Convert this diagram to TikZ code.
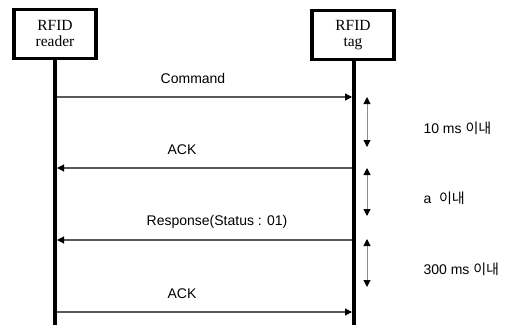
\documentclass[tikz,border=0pt]{standalone}
\usepackage{fontspec}
\setmainfont{Liberation Serif}
\setsansfont{Liberation Sans}
\newfontfamily\kr{Noto Sans CJK KR}
\usetikzlibrary{arrows.meta}

\begin{document}
\begin{tikzpicture}[x=1pt,y=-1pt,
  actor/.style={draw,line width=3.8pt,minimum width=82pt,minimum height=49pt,inner sep=0pt,align=center,font=\fontsize{15.5}{16}\selectfont},
  life/.style={line width=3.8pt},
  msg/.style={draw=black!65,line width=1.1pt,-{Triangle[length=7pt,width=7pt,black]}},
  gap/.style={draw=black!45,line width=1pt,{Triangle[length=7pt,width=7pt,black]}-{Triangle[length=7pt,width=7pt,black]}},
  lbl/.style={font=\sffamily\fontsize{14}{16}\selectfont}]
\useasboundingbox (0,0) rectangle (506,324);

\node[actor] (reader) at (55,34) {RFID\\reader};
\node[actor] (tag) at (353,35) {RFID\\tag};
\coordinate (rend) at (55,326);
\coordinate (tend) at (354,326);
\draw[life] (reader.south) -- (rend);
\draw[life] (tag.south -| tend) -- (tend);

% messages between reader and tag
\foreach \n/\y/\l/\lx in{
1/97/{Command}/193,
2/168/{ACK}/182,
3/240/{Response(Status : 01)}/217,
4/312/{ACK}/182
}
{
        \coordinate (r\n) at (57,\y);
        \coordinate (t\n) at (352,\y);
        \node[lbl] (m\n) at (\lx,\y-18.5) {\l};
    }
\draw[msg] (r1) -- (t1);
\draw[msg] (t2) -- (r2);
\draw[msg] (t3) -- (r3);
\draw[msg] (r4) -- (t4);

% time limits on the tag side
\foreach \n/\a/\b/\l in{
1/97/147/{10 ms {\kr 이내}},
2/168/216/{a\ \ {\kr 이내}},
3/239/287/{300 ms {\kr 이내}}
}
{
        \coordinate (ga\n) at (367,\a);
        \coordinate (gb\n) at (367,\b);
        \node[lbl,anchor=west] (d\n) at (420,{(\a+\b)/2+6}) {\l};
        \draw[gap] (ga\n) -- (gb\n);
    }
\end{tikzpicture}
\end{document}
